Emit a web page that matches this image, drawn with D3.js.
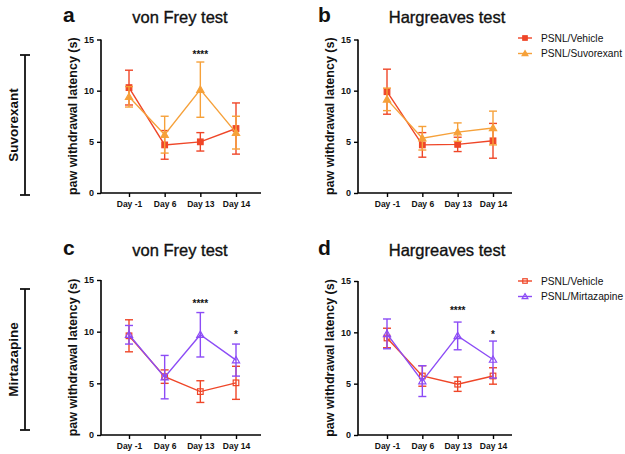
<!DOCTYPE html>
<html><head><meta charset="utf-8">
<script src="https://cdn.jsdelivr.net/npm/d3@7"></script>
<style>body{margin:0;background:#fff}svg{display:block}text{font-family:"Liberation Sans",Arial,sans-serif}</style>
</head><body><svg id="c" width="625" height="454"></svg>
<script>
const days = ["Day -1","Day 6","Day 13","Day 14"];
const yTicks = [0,5,10,15];
// mean and SD per group
const aVehMean = [10.3,4.7,5.0,6.3], aVehErr = [1.7,1.4,0.9,2.5];
const aSuvMean = [9.4,5.7,10.1,5.9], aSuvErr = [1.0,1.8,2.7,1.6];
const bVehMean = [9.9,4.7,4.75,5.1], bVehErr = [2.2,1.2,0.7,1.7];
const bSuvMean = [9.15,5.35,5.95,6.35], bSuvErr = [1.1,1.15,0.9,1.65];
const cVehMean = [9.6,5.65,4.2,5.05], cVehErr = [1.55,0.65,1.05,1.6];
const cMirMean = [9.7,5.6,9.7,7.25], cMirErr = [0.9,2.1,2.15,1.55];
const dVehMean = [9.45,5.75,4.95,5.75], dVehErr = [0.95,1.0,0.7,0.8];
const dMirMean = [9.85,5.25,9.65,7.35], dMirErr = [1.45,1.5,1.35,1.8];
const aStars = [{day:"Day 13", y:13.6, t:"****"}];
const bStars = [];
const cStars = [{day:"Day 13", y:12.8, t:"****"},{day:"Day 14", y:9.8, t:"*"}];
const dStars = [{day:"Day 13", y:12.2, t:"****"},{day:"Day 14", y:9.8, t:"*"}];
const titles = ["von Frey test","Hargreaves test","von Frey test","Hargreaves test"];
const letters = ["a","b","c","d"];
const legend1 = ["PSNL/Vehicle","PSNL/Suvorexant"];
const legend2 = ["PSNL/Vehicle","PSNL/Mirtazapine"];
const rowLabels = ["Suvorexant","Mirtazapine"];

const RED="#ef4628", ORANGE="#f6a13a", PURPLE="#8c4cf6";
const svg = d3.select("#c");

const panels = [
 {ax:101, top:39.5, bot:193, x0:129, x1:236, xEnd:261, letterX:63, titleX:180, titleY:23, ylx:77,
  series:[{m:aVehMean,e:aVehErr,c:RED,shape:"square",fill:true},{m:aSuvMean,e:aSuvErr,c:ORANGE,shape:"tri",fill:true}], stars:aStars},
 {ax:358, top:39.5, bot:193, x0:387, x1:493, xEnd:512, letterX:318, titleX:447, titleY:23, ylx:334,
  series:[{m:bVehMean,e:bVehErr,c:RED,shape:"square",fill:true},{m:bSuvMean,e:bSuvErr,c:ORANGE,shape:"tri",fill:true}], stars:bStars},
 {ax:101, top:280, bot:435, x0:129, x1:236, xEnd:261, letterX:63, titleX:180, titleY:256, ylx:77,
  series:[{m:cVehMean,e:cVehErr,c:RED,shape:"square",fill:false},{m:cMirMean,e:cMirErr,c:PURPLE,shape:"tri",fill:false}], stars:cStars},
 {ax:358, top:281, bot:435, x0:387, x1:493, xEnd:512, letterX:318, titleX:447, titleY:256, ylx:334,
  series:[{m:dVehMean,e:dVehErr,c:RED,shape:"square",fill:false},{m:dMirMean,e:dMirErr,c:PURPLE,shape:"tri",fill:false}], stars:dStars}
];

function marker(g, shape, x, y, c, fill, sc){
  sc = sc||1;
  if(shape==="square"){
    const h=2.8*sc;
    g.append("rect").attr("x",x-h).attr("y",y-h).attr("width",2*h).attr("height",2*h)
      .attr("fill",fill?c:"#fff").attr("fill-opacity",fill?1:0).attr("stroke",c).attr("stroke-width",1.2);
  } else {
    const s=3.6*sc;
    g.append("path").attr("d",`M${x},${y-s}L${x+s},${y+s*0.75}L${x-s},${y+s*0.75}Z`)
      .attr("fill",fill?c:"none").attr("stroke",c).attr("stroke-width",1.2);
  }
}

panels.forEach((p,i)=>{
  const g = svg.append("g");
  const y = d3.scaleLinear().domain([0,15]).range([p.bot,p.top]);
  const x = d3.scalePoint().domain(days).range([p.x0,p.x1]);
  const ya = g.append("g").attr("transform",`translate(${p.ax},0)`)
    .call(d3.axisLeft(y).tickValues(yTicks).tickSize(4).tickPadding(3));
  ya.select(".domain").attr("stroke-width",1.6).attr("d",`M-0,${p.top}V${p.bot}`);
  ya.selectAll(".tick line").attr("stroke-width",1.4);
  ya.selectAll("text").attr("font-size",9).attr("font-weight","bold").attr("fill","#111");
  const xa = g.append("g").attr("transform",`translate(0,${p.bot})`)
    .call(d3.axisBottom(x).tickSize(4).tickPadding(4));
  xa.select(".domain").attr("stroke-width",1.6).attr("d",`M${p.ax},0H${p.xEnd}`);
  xa.selectAll(".tick line").attr("stroke-width",1.4);
  xa.selectAll("text").attr("font-size",8.5).attr("font-weight","bold").attr("fill","#111");
  g.append("text").attr("transform",`translate(${p.ylx},${(p.top+p.bot)/2}) rotate(-90)`)
    .attr("text-anchor","middle").attr("font-size",12.5).attr("font-weight","bold").attr("fill","#111")
    .text("paw withdrawal latency (s)");
  g.append("text").attr("x",p.titleX).attr("y",p.titleY).attr("text-anchor","middle")
    .attr("font-size",16.5).attr("fill","#111").attr("stroke","#111").attr("stroke-width",0.35).text(titles[i]);
  g.append("text").attr("x",p.letterX).attr("y",p.titleY-1).attr("font-size",21)
    .attr("font-weight","bold").attr("fill","#111").text(letters[i]);
  p.series.forEach(s=>{
    const sg = g.append("g");
    const line = d3.line().x((d,k)=>x(days[k])).y(d=>y(d));
    sg.append("path").attr("d",line(s.m)).attr("fill","none").attr("stroke",s.c).attr("stroke-width",1.4);
    s.m.forEach((m,k)=>{
      const cx=x(days[k]), e=s.e[k];
      sg.append("line").attr("x1",cx).attr("x2",cx).attr("y1",y(m+e)).attr("y2",y(m-e)).attr("stroke",s.c).attr("stroke-width",1.4);
      [m+e,m-e].forEach(v=>sg.append("line").attr("x1",cx-4).attr("x2",cx+4).attr("y1",y(v)).attr("y2",y(v)).attr("stroke",s.c).attr("stroke-width",1.4));
      marker(sg,s.shape,cx,y(m),s.c,s.fill);
    });
  });
  p.stars.forEach(st=>{
    g.append("text").attr("x",x(st.day)).attr("y",y(st.y)+4).attr("text-anchor","middle")
      .attr("font-size",10).attr("font-weight","bold").attr("fill","#111").text(st.t);
  });
});

function legend(y0, labels, s){
  labels.forEach((t,k)=>{
    const yy = y0+k*15.5;
    const g = svg.append("g");
    g.append("line").attr("x1",518).attr("x2",532).attr("y1",yy).attr("y2",yy).attr("stroke",s[k].c).attr("stroke-width",1.4);
    marker(g,s[k].shape,525,yy,s[k].c,s[k].fill,0.8);
    g.append("text").attr("x",541).attr("y",yy+3.8).attr("font-size",10.2).attr("fill","#111").text(t);
  });
}
legend(38, legend1, panels[1].series);
legend(281, legend2, panels[3].series);

[[55,195],[289,430]].forEach((r,k)=>{
  const g = svg.append("g").attr("stroke","#111").attr("stroke-width",1.8);
  g.append("line").attr("x1",25).attr("x2",25).attr("y1",r[0]).attr("y2",r[1]);
  g.append("line").attr("x1",20).attr("x2",30).attr("y1",r[0]).attr("y2",r[0]);
  g.append("line").attr("x1",20).attr("x2",30).attr("y1",r[1]).attr("y2",r[1]);
  svg.append("text").attr("transform",`translate(18,${(r[0]+r[1])/2}) rotate(-90)`)
    .attr("text-anchor","middle").attr("font-size",13.5).attr("font-weight","bold").attr("fill","#111").text(rowLabels[k]);
});
</script></body></html>
